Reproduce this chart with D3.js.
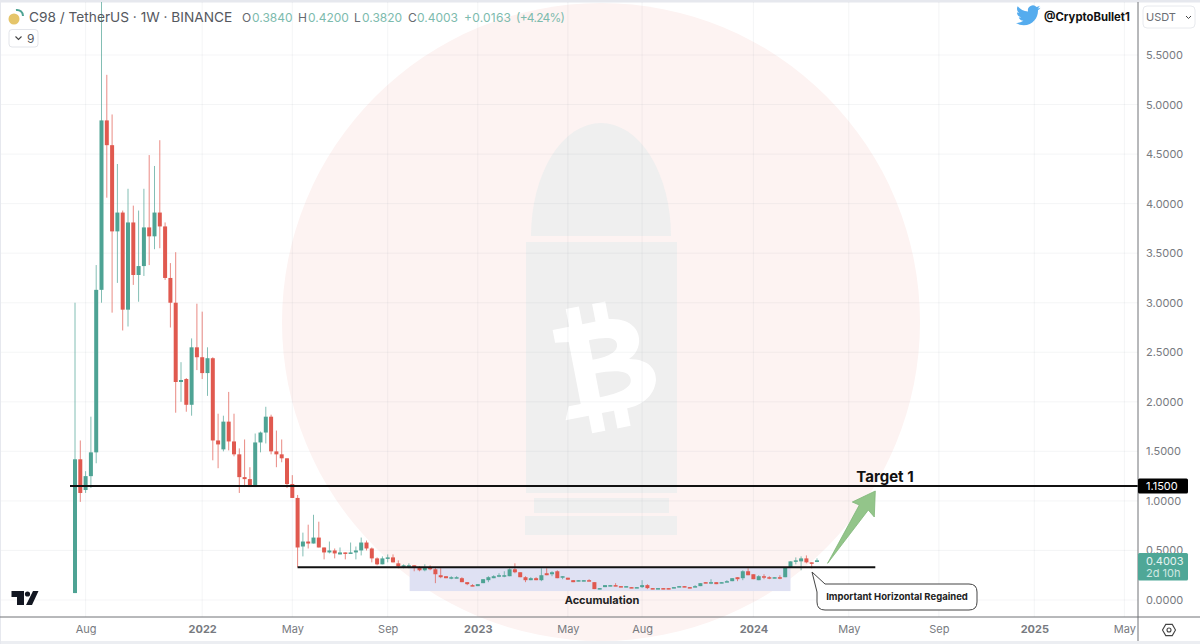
<!DOCTYPE html>
<html>
<head>
<meta charset="utf-8">
<title>C98 / TetherUS</title>
<script src="https://cdn.jsdelivr.net/npm/d3@7"></script>
<style>
  html, body { margin: 0; padding: 0; background: #fff; }
  svg { display: block; font-family: Inter, "Liberation Sans", sans-serif; }
</style>
</head>
<body>
<div id="chart"></div>
<script>
// weekly candles, first one is the week of 2021-07-19
const firstWeek = new Date(Date.UTC(2021, 6, 19))
const opens = [
  0.07, 1.42, 1.11, 1.25, 1.49, 3.13, 4.84, 4.59, 3.72, 3.91,
  2.93, 3.81, 3.28, 3.37, 3.76, 3.67, 3.91, 3.77, 3.25, 3.00,
  2.20, 2.23, 1.97, 2.55, 2.45, 2.29, 2.44, 1.61, 1.52, 1.80,
  1.60, 1.47, 1.24, 1.22, 1.14, 1.59, 1.69, 1.85, 1.50, 1.47,
  1.43, 1.17, 1.03, 0.54, 0.59, 0.57, 0.63, 0.53, 0.48, 0.50,
  0.46, 0.48, 0.47, 0.48, 0.50, 0.58, 0.52, 0.42, 0.36, 0.42,
  0.43, 0.37, 0.34, 0.34, 0.35, 0.33, 0.30, 0.33, 0.31, 0.25,
  0.24, 0.22, 0.22, 0.22, 0.18, 0.15, 0.14, 0.17, 0.20, 0.22,
  0.24, 0.24, 0.24, 0.31, 0.28, 0.23, 0.20, 0.22, 0.20, 0.27,
  0.26, 0.29, 0.23, 0.225, 0.20, 0.19, 0.19, 0.20, 0.18, 0.11,
  0.13, 0.14, 0.15, 0.14, 0.13, 0.13, 0.12, 0.13, 0.15, 0.12,
  0.11, 0.12, 0.12, 0.12, 0.13, 0.14, 0.13, 0.13, 0.14, 0.18,
  0.17, 0.18, 0.17, 0.18, 0.19, 0.23, 0.22, 0.29, 0.26, 0.20,
  0.24, 0.23, 0.22, 0.23, 0.23, 0.33, 0.39, 0.39, 0.42, 0.38,
  0.3840
]
const closes = [
  1.42, 1.08, 1.25, 1.49, 3.13, 4.84, 4.59, 3.72, 3.91, 2.93,
  3.81, 3.28, 3.37, 3.76, 3.67, 3.91, 3.77, 3.25, 3.00, 2.20,
  2.22, 1.97, 2.55, 2.45, 2.29, 2.44, 1.61, 1.57, 1.80, 1.60,
  1.47, 1.24, 1.22, 1.14, 1.59, 1.69, 1.85, 1.50, 1.47, 1.43,
  1.17, 1.03, 0.53, 0.59, 0.57, 0.63, 0.53, 0.48, 0.50, 0.47,
  0.48, 0.47, 0.48, 0.50, 0.58, 0.52, 0.42, 0.36, 0.42, 0.43,
  0.38, 0.34, 0.35, 0.35, 0.33, 0.30, 0.33, 0.31, 0.26, 0.23,
  0.22, 0.23, 0.23, 0.18, 0.16, 0.14, 0.16, 0.21, 0.23, 0.24,
  0.25, 0.25, 0.31, 0.28, 0.23, 0.20, 0.22, 0.20, 0.25, 0.25,
  0.28, 0.22, 0.24, 0.205, 0.18, 0.20, 0.20, 0.19, 0.11, 0.12,
  0.15, 0.15, 0.14, 0.13, 0.14, 0.12, 0.13, 0.15, 0.12, 0.11,
  0.12, 0.11, 0.11, 0.13, 0.14, 0.13, 0.12, 0.14, 0.17, 0.17,
  0.18, 0.16, 0.18, 0.19, 0.22, 0.21, 0.29, 0.25, 0.21, 0.24,
  0.23, 0.22, 0.23, 0.22, 0.33, 0.39, 0.40, 0.42, 0.38, 0.37,
  0.4003
]
const highs = [
  3.00, 1.61, 1.30, 1.85, 3.38, 6.05, 5.30, 4.90, 4.40, 3.93,
  4.15, 3.98, 3.93, 4.15, 4.49, 4.38, 4.64, 3.81, 3.40, 3.51,
  2.40, 2.24, 2.64, 2.99, 2.91, 2.55, 2.45, 1.88, 1.86, 2.10,
  1.88, 1.53, 1.62, 1.34, 1.68, 1.70, 1.95, 1.87, 1.71, 1.62,
  1.43, 1.26, 1.06, 0.68, 0.76, 0.86, 0.79, 0.53, 0.59, 0.52,
  0.53, 0.48, 0.58, 0.54, 0.63, 0.60, 0.53, 0.43, 0.44, 0.46,
  0.46, 0.40, 0.36, 0.37, 0.35, 0.34, 0.36, 0.35, 0.33, 0.32,
  0.24, 0.24, 0.24, 0.23, 0.18, 0.16, 0.16, 0.21, 0.24, 0.25,
  0.27, 0.29, 0.32, 0.37, 0.28, 0.24, 0.23, 0.23, 0.32, 0.32,
  0.29, 0.30, 0.24, 0.225, 0.20, 0.20, 0.20, 0.21, 0.18, 0.12,
  0.15, 0.15, 0.17, 0.14, 0.14, 0.13, 0.13, 0.20, 0.16, 0.12,
  0.12, 0.12, 0.12, 0.13, 0.14, 0.14, 0.13, 0.15, 0.17, 0.18,
  0.21, 0.18, 0.18, 0.20, 0.22, 0.23, 0.30, 0.32, 0.26, 0.25,
  0.26, 0.24, 0.23, 0.25, 0.33, 0.39, 0.43, 0.44, 0.45, 0.38,
  0.4200
]
const lows = [
  0.07, 0.99, 1.08, 1.13, 1.38, 3.00, 4.06, 2.90, 3.20, 2.72,
  2.76, 3.18, 3.01, 3.27, 3.38, 3.54, 3.55, 3.23, 2.75, 1.89,
  2.00, 1.90, 1.86, 2.32, 2.23, 2.06, 1.41, 1.33, 1.50, 1.51,
  1.45, 1.08, 1.14, 1.14, 1.14, 1.49, 1.58, 1.47, 1.34, 1.39,
  1.13, 1.03, 0.33, 0.44, 0.52, 0.57, 0.53, 0.41, 0.47, 0.42,
  0.46, 0.41, 0.47, 0.41, 0.45, 0.50, 0.38, 0.35, 0.36, 0.38,
  0.38, 0.32, 0.32, 0.32, 0.29, 0.29, 0.29, 0.30, 0.17, 0.22,
  0.22, 0.21, 0.22, 0.18, 0.15, 0.14, 0.14, 0.17, 0.18, 0.22,
  0.23, 0.23, 0.24, 0.27, 0.23, 0.18, 0.20, 0.20, 0.19, 0.25,
  0.24, 0.22, 0.21, 0.205, 0.18, 0.19, 0.19, 0.19, 0.11, 0.11,
  0.13, 0.14, 0.14, 0.13, 0.13, 0.12, 0.12, 0.12, 0.11, 0.11,
  0.11, 0.11, 0.11, 0.12, 0.13, 0.13, 0.12, 0.13, 0.14, 0.17,
  0.16, 0.16, 0.17, 0.18, 0.19, 0.19, 0.20, 0.25, 0.21, 0.20,
  0.21, 0.21, 0.22, 0.21, 0.23, 0.33, 0.36, 0.30, 0.37, 0.32,
  0.3820
]

const priceTicks = [0, 0.5, 1, 1.5, 2, 2.5, 3, 3.5, 4, 4.5, 5, 5.5]
const dateTicks = ['2021-08-02', '2022-01-03', '2022-05-02', '2022-09-05', '2023-01-02', '2023-05-01',
  '2023-08-07', '2024-01-01', '2024-05-06', '2024-09-02', '2025-01-06', '2025-05-05'].map(d => new Date(d))
const dateLabels = ['Aug', '2022', 'May', 'Sep', '2023', 'May', 'Aug', '2024', 'May', 'Sep', '2025', 'May']

const targetPrice = 1.15
const supportPrice = 0.33
const supportWeeks = ['2022-05-09', '2024-06-10'].map(d => new Date(d))
const accumulationWeeks = ['2022-10-04', '2024-02-19'].map(d => new Date(d))
const accumulationPrices = [0.33, 0.09]
const arrowTip = [new Date('2024-06-10'), 1.10]
const arrowTail = [new Date('2024-04-08'), 0.37]

const legendKeys = ['O', 'H', 'L', 'C']
const legendValues = ['0.3840', '0.4200', '0.3820', '0.4003']
const legendChange = '+0.0163'
const legendPercent = '(+4.24%)'

const width = 1200, height = 644
const axisX = 1138, axisY = 617
const up = '#4ea394', down = '#e0594f'
const legendKeyX = [242, 298, 354, 408]
const legendValueX = [252, 308, 362, 417]

const svg = d3.select('#chart').append('svg')
  .attr('width', width)
  .attr('height', height)

// scales, 0 sits at y=600 and 5.5 at y=55
const x = d3.scaleUtc()
  .domain([firstWeek, new Date('2025-05-05')])
  .range([75, 1124.4])
const y = d3.scaleLinear()
  .domain([0, 5.5])
  .range([600, 55])

// outer frame
svg.append('rect').attr('width', width).attr('height', 2.5).attr('fill', '#e6e8ee')
svg.append('rect').attr('y', 641).attr('width', width).attr('height', 3).attr('fill', '#eceef2')
svg.append('rect').attr('width', 1).attr('height', height).attr('fill', '#e6e8ee')

// watermark
const mark = svg.append('g')
mark.append('circle').attr('cx', 601).attr('cy', 322).attr('r', 319).attr('fill', '#fdf3f2')
mark.append('path').attr('d', 'M531,236 A70,113 0 0 1 671,236 Z').attr('fill', '#efefef')
mark.append('rect').attr('x', 526).attr('y', 242).attr('width', 151).attr('height', 251).attr('fill', '#efefef')
mark.append('rect').attr('x', 534).attr('y', 498).attr('width', 135).attr('height', 15).attr('fill', '#efefef')
mark.append('rect').attr('x', 525).attr('y', 516).attr('width', 152).attr('height', 19).attr('fill', '#efefef')
mark.append('path')
  .attr('transform', 'translate(603,366) rotate(-11) scale(1.12,1)')
  .attr('fill', '#fff')
  .attr('fill-rule', 'evenodd')
  .attr('d', 'M-38,-45 L-23,-45 L-23,-63 L-11,-63 L-11,-45 L1,-45 L1,-63 L13,-63 L13,-45 C33,-42 38,-28 36,-18 C34,-8 28,-4 24,-2 C42,2 46,14 44,24 C40,40 26,46 14,46 L14,64 L2,64 L2,46 L-9,46 L-9,64 L-21,64 L-21,46 L-42,46 L-37,33 L-26,33 L-26,-30 L-38,-32 Z '
    + 'M-8,-28 L-8,-8 C8,-8 16,-12 16,-19 C16,-26 8,-28 -8,-28 Z M-8,6 L-8,30 C10,30 22,27 22,18 C22,9 10,6 -8,6 Z')

// grid
const grid = svg.append('g')
grid.selectAll('line.h').data(priceTicks).enter().append('line')
  .attr('class', 'h')
  .attr('x1', 1).attr('x2', axisX)
  .attr('y1', d => y(d)).attr('y2', d => y(d))
  .attr('stroke', '#8a8f9c').attr('stroke-opacity', 0.09)
grid.selectAll('line.v').data(dateTicks).enter().append('line')
  .attr('class', 'v')
  .attr('x1', d => x(d)).attr('x2', d => x(d))
  .attr('y1', 2).attr('y2', axisY)
  .attr('stroke', '#8a8f9c').attr('stroke-opacity', 0.09)

// accumulation zone
svg.append('rect')
  .attr('x', x(accumulationWeeks[0]))
  .attr('y', y(accumulationPrices[0]))
  .attr('width', x(accumulationWeeks[1]) - x(accumulationWeeks[0]))
  .attr('height', y(accumulationPrices[1]) - y(accumulationPrices[0]))
  .attr('fill', '#dfe1f3')

// candles
const candles = opens.map((o, i) => ({
  week: d3.utcMonday.offset(firstWeek, i),
  open: o, close: closes[i], high: highs[i], low: lows[i]
}))
const plot = svg.append('g')
plot.selectAll('line.wick').data(candles).enter().append('line')
  .attr('class', 'wick')
  .attr('x1', d => x(d.week)).attr('x2', d => x(d.week))
  .attr('y1', d => Math.max(y(d.high), 2)).attr('y2', d => y(d.low))
  .attr('stroke', d => d.close >= d.open ? up : down)
  .attr('stroke-opacity', 0.7)
plot.selectAll('rect.body').data(candles).enter().append('rect')
  .attr('class', 'body')
  .attr('x', d => x(d.week) - 2)
  .attr('width', 4)
  .attr('y', d => Math.min(y(d.open), y(d.close)))
  .attr('height', d => Math.max(Math.abs(y(d.open) - y(d.close)), 1.5))
  .attr('fill', d => d.close >= d.open ? up : down)

// horizontal levels
svg.append('line')
  .attr('x1', 70).attr('x2', axisX)
  .attr('y1', y(targetPrice)).attr('y2', y(targetPrice))
  .attr('stroke', '#111').attr('stroke-width', 2)
svg.append('line')
  .attr('x1', x(supportWeeks[0])).attr('x2', x(supportWeeks[1]))
  .attr('y1', y(supportPrice)).attr('y2', y(supportPrice))
  .attr('stroke', '#111').attr('stroke-width', 2)

// target arrow, shape is drawn from tip and tail
const tipX = x(arrowTip[0]), tipY = y(arrowTip[1])
const tailX = x(arrowTail[0]), tailY = y(arrowTail[1])
svg.append('path')
  .attr('d', `M${tailX},${tailY} L${tipX - 16},${tipY + 14} L${tipX - 23},${tipY + 11} L${tipX},${tipY}`
    + ` L${tipX - 1},${tipY + 26} L${tipX - 7},${tipY + 19} Z`)
  .attr('fill', '#93c58a')
  .attr('stroke', '#7fb577')
  .attr('stroke-width', 0.8)

svg.append('text').attr('x', 885).attr('y', 482)
  .attr('text-anchor', 'middle')
  .attr('font-size', 15).attr('font-weight', 700).attr('fill', '#111')
  .text('Target 1')
svg.append('text').attr('x', 602).attr('y', 604)
  .attr('text-anchor', 'middle')
  .attr('font-size', 11).attr('font-weight', 700).attr('fill', '#222')
  .text('Accumulation')

// callout
svg.append('path')
  .attr('d', 'M812,572 L825,584 L969,584 Q977,584 977,592 L977,602 Q977,610 969,610 L825,610 Q817,610 817,602 L817,592 Z')
  .attr('fill', '#fff')
  .attr('stroke', '#444')
svg.append('text').attr('x', 897).attr('y', 600)
  .attr('text-anchor', 'middle')
  .attr('font-size', 9.5).attr('font-weight', 700).attr('fill', '#222')
  .text('Important Horizontal Regained')

// axes
const yAxis = d3.axisRight(y).tickValues(priceTicks).tickSize(0).tickPadding(8).tickFormat(d3.format('.4f'))
const yG = svg.append('g').attr('transform', `translate(${axisX},0)`).call(yAxis)
yG.select('.domain').remove()
yG.selectAll('text').attr('font-size', 11).attr('font-family', 'Inter').attr('fill', '#777a80')

const xAxis = d3.axisBottom(x).tickValues(dateTicks).tickSize(0).tickPadding(8)
  .tickFormat((d, i) => dateLabels[i])
const xG = svg.append('g').attr('transform', `translate(0,${axisY})`).call(xAxis)
xG.select('.domain').remove()
xG.selectAll('text')
  .attr('font-size', 11).attr('font-family', 'Inter').attr('fill', '#777a80')
  .attr('font-weight', (d, i) => /^\d/.test(dateLabels[i]) ? 700 : 400)

svg.append('line').attr('x1', 0).attr('x2', width).attr('y1', axisY).attr('y2', axisY).attr('stroke', '#707276')
svg.append('line').attr('x1', axisX).attr('x2', axisX).attr('y1', 2).attr('y2', 641).attr('stroke', '#707276')

// price badges
svg.append('rect').attr('x', axisX).attr('y', y(targetPrice) - 7.5).attr('width', 50).attr('height', 15).attr('rx', 1.5).attr('fill', '#000')
svg.append('text').attr('x', 1146).attr('y', y(targetPrice) + 4.2)
  .attr('font-size', 11).attr('fill', '#fff').text(d3.format('.4f')(targetPrice))
svg.append('rect').attr('x', axisX).attr('y', 553).attr('width', 50).attr('height', 27.5).attr('rx', 1.5).attr('fill', '#4fa797')
svg.append('text').attr('x', 1146).attr('y', 565)
  .attr('font-size', 11).attr('fill', '#e6f3f0').text(d3.format('.4f')(closes[closes.length - 1]))
svg.append('text').attr('x', 1146).attr('y', 577)
  .attr('font-size', 11).attr('fill', '#cfe8e2').text('2d 10h')

// header
svg.append('circle').attr('cx', 14).attr('cy', 19).attr('r', 5.5).attr('fill', '#e5c56a')
svg.append('path').attr('d', 'M16,10 A6,6 0 0 1 23,16').attr('fill', 'none').attr('stroke', '#4ea394').attr('stroke-width', 2)
svg.append('text').attr('x', 29).attr('y', 22)
  .attr('font-size', 13.7).attr('fill', '#55585e')
  .text('C98 / TetherUS · 1W · BINANCE')
legendKeys.forEach((k, i) => {
  svg.append('text').attr('x', legendKeyX[i]).attr('y', 21.5).attr('font-size', 12).attr('fill', '#66696f').text(k)
  svg.append('text').attr('x', legendValueX[i]).attr('y', 21.5).attr('font-size', 12).attr('fill', '#7dbbae').text(legendValues[i])
})
svg.append('text').attr('x', 464).attr('y', 21.5).attr('font-size', 12).attr('fill', '#7dbbae')
  .attr('textLength', 47).text(legendChange)
svg.append('text').attr('x', 516).attr('y', 21.5).attr('font-size', 12).attr('fill', '#7dbbae')
  .attr('textLength', 49).text(legendPercent)

svg.append('rect').attr('x', 9).attr('y', 29.5).attr('width', 29).attr('height', 17.5).attr('rx', 3)
  .attr('fill', '#fff').attr('stroke', '#e3e5ea')
svg.append('path').attr('d', 'M15.5,36.5 L18.5,39.5 L21.5,36.5').attr('fill', 'none').attr('stroke', '#444').attr('stroke-width', 1.1)
svg.append('text').attr('x', 27).attr('y', 42.5).attr('font-size', 12).attr('fill', '#55585e').text('9')

// twitter handle
svg.append('path')
  .attr('transform', 'translate(1016,3) scale(1.02)')
  .attr('fill', '#55acee')
  .attr('d', 'M23.953 4.57a10 10 0 01-2.825.775 4.958 4.958 0 002.163-2.723c-.951.555-2.005.959-3.127 1.184a4.92 4.92 0 00-8.384 4.482C7.69 8.095 4.067 6.13 1.64 3.162a4.822 4.822 0 00-.666 2.475c0 1.71.87 3.213 2.188 4.096a4.904 4.904 0 01-2.228-.616v.06a4.923 4.923 0 003.946 4.827 4.996 4.996 0 01-2.212.085 4.936 4.936 0 004.604 3.417 9.867 9.867 0 01-6.102 2.105c-.39 0-.779-.023-1.17-.067a13.995 13.995 0 007.557 2.209c9.053 0 13.998-7.496 13.998-13.985 0-.21 0-.42-.015-.63A9.935 9.935 0 0024 4.59z')
svg.append('text').attr('x', 1044).attr('y', 21)
  .attr('font-size', 11.3).attr('font-weight', 700).attr('fill', '#111')
  .text('@CryptoBullet1')

// currency box
svg.append('rect').attr('x', 1143).attr('y', 6).attr('width', 52).attr('height', 22).attr('rx', 4)
  .attr('fill', '#fff').attr('stroke', '#e8eaee')
svg.append('text').attr('x', 1146).attr('y', 21).attr('font-size', 11).attr('fill', '#6b6e74').text('USDT')
svg.append('path').attr('d', 'M1186,16 L1188.5,18.5 L1191,16').attr('fill', 'none').attr('stroke', '#444').attr('stroke-width', 1)

// gear at the axis corner
svg.append('path').attr('d', d3.line()(d3.range(6).map(i => [1169 + 6.5 * Math.cos(i * Math.PI / 3), 630 + 6.5 * Math.sin(i * Math.PI / 3)])) + 'Z')
  .attr('fill', 'none').attr('stroke', '#444').attr('stroke-width', 1.1)
svg.append('circle').attr('cx', 1169).attr('cy', 630).attr('r', 2).attr('fill', 'none').attr('stroke', '#444').attr('stroke-width', 1.1)

// tradingview logo
svg.append('path')
  .attr('d', 'M11.5,591 L24,591 L24,605 L17,605 L17,597 L11.5,597 Z M33,591 L38.5,591 L32,605 L26,605 Z')
  .attr('fill', '#131722')
svg.append('circle').attr('cx', 27.5).attr('cy', 594).attr('r', 2.6).attr('fill', '#131722')
</script>
</body>
</html>
